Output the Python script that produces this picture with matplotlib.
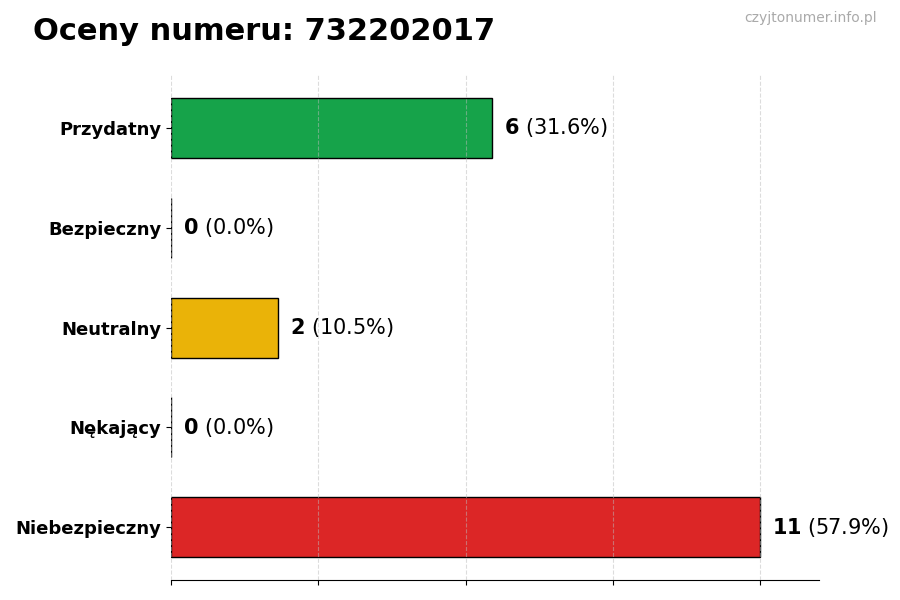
import matplotlib.pyplot as plt
import numpy as np

categories = ['Przydatny', 'Bezpieczny', 'Neutralny', 'Nękający', 'Niebezpieczny']
counts = [6, 0, 2, 0, 11]
colors = ['#16a34a', '#9ca3af', '#eab308', '#f97316', '#dc2626']
title = 'Oceny numeru: 732202017'
watermark = 'czyjtonumer.info.pl'

total = sum(counts)
maxVal = max(counts)

fig = plt.figure(figsize=(9, 6), dpi=100)
ax = fig.add_axes([0.19, 0.033, 0.72, 0.842])

y = np.arange(len(categories))
ax.barh(y, counts, height=0.6, color=colors, edgecolor='black', linewidth=1, zorder=1)
ax.invert_yaxis()
ax.set_yticks(y)
ax.set_yticklabels(categories, fontsize=13, fontweight='bold')

for i, v in enumerate(counts):
    pct = 100.0 * v / total
    ax.annotate(f'$\\bf{{{v}}}$ ({pct:.1f}%)', (v + maxVal * 0.02, i),
                va='center', ha='left', fontsize=15)

ax.set_xlim(0, maxVal * 1.1)
ax.set_xticks(np.linspace(0, maxVal, 5))
ax.set_xticklabels([])
ax.grid(axis='x', linestyle='--', color='#bbbbbb', linewidth=0.8, alpha=0.5, zorder=3)
ax.set_axisbelow(False)
for s in ['top', 'right', 'left']:
    ax.spines[s].set_visible(False)

fig.text(0.037, 0.948, title, fontsize=22, fontweight='bold', va='center', ha='left')
fig.text(0.974, 0.97, watermark, fontsize=10, color='#aaaaaa', va='center', ha='right')

fig.savefig('out.png', dpi=100)
